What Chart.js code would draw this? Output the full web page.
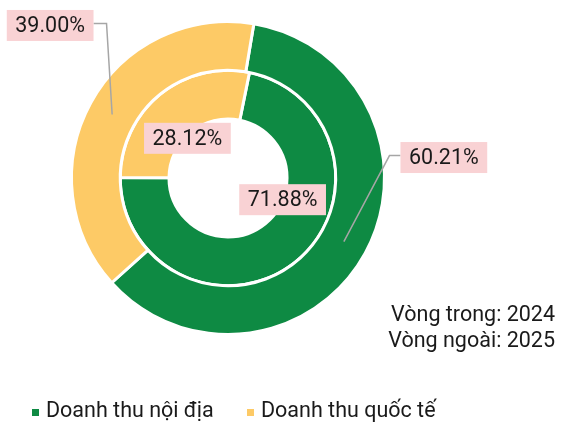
<!DOCTYPE html>
<html>
<head>
<meta charset="utf-8">
<script src="https://cdn.jsdelivr.net/npm/chart.js@4.4.1/dist/chart.umd.min.js"></script>
<style>
  body { margin: 0; background: #fff; }
  canvas { display: block; }
</style>
</head>
<body>
<canvas id="chart1" width="571" height="426"></canvas>
<script>
// data
const categories = ['Doanh thu nội địa', 'Doanh thu quốc tế'];
const outer2025 = [60.21, 39.00];
const inner2024 = [71.88, 28.12];
const ringNotes = ['Vòng trong: 2024', 'Vòng ngoài: 2025'];

const colors = ['#0e8a43', '#fdca66'];
const FONT = '21.5px Roboto';

// where each label box sits relative to its slice centre
const labelShift = [
  [[100, -84], [-62, -89]],   // outer ring (2025)
  [[2, -43], [12, 25]]        // inner ring (2024)
];

const labelPlugin = {
  id: 'labels',
  afterDatasetsDraw(chart) {
    const ctx = chart.ctx;
    ctx.save();
    ctx.font = FONT;
    ctx.textBaseline = 'middle';
    ctx.textAlign = 'center';

    chart.data.datasets.forEach(function(ds, di) {
      const meta = chart.getDatasetMeta(di);
      meta.data.forEach(function(arc, i) {
        const p = arc.tooltipPosition();
        const text = ds.data[i].toFixed(2) + '%';
        const w = ctx.measureText(text).width + 17;
        const h = 31;
        const cx = p.x + labelShift[di][i][0];
        const cy = p.y + labelShift[di][i][1];

        // leader lines only for the outer ring
        if (di === 0) {
          const edge = cx < p.x ? cx + w / 2 : cx - w / 2;
          const elbow = cx < p.x ? edge + 13 : edge - 11;
          ctx.strokeStyle = '#a6a6a6';
          ctx.lineWidth = 1.5;
          ctx.beginPath();
          ctx.moveTo(edge, cy - 2);
          ctx.lineTo(elbow, cy - 2);
          ctx.lineTo(p.x, p.y);
          ctx.stroke();
        }

        ctx.fillStyle = '#f9d2d4';
        ctx.fillRect(cx - w / 2, cy - h / 2, w, h);
        ctx.fillStyle = '#1a1a1a';
        ctx.fillText(text, cx, cy + 1);
      });
    });

    // ring note, bottom right
    ctx.textAlign = 'right';
    ctx.fillText(ringNotes[0], 555, 316);
    ctx.fillText(ringNotes[1], 555, 342);

    // legend
    ctx.textAlign = 'left';
    const legendX = [32, 247];
    categories.forEach(function(name, i) {
      ctx.fillStyle = colors[i];
      ctx.fillRect(legendX[i], 409, 7, 7);
      ctx.fillStyle = '#1a1a1a';
      ctx.fillText(name, legendX[i] + 14, 412);
    });
    ctx.restore();
  }
};

new Chart(document.getElementById('chart1'), {
  type: 'doughnut',
  data: {
    labels: categories,
    datasets: [
      {
        label: '2025',
        data: outer2025,
        backgroundColor: colors,
        borderColor: '#ffffff',
        borderWidth: 3,
        rotation: 9.5
      },
      {
        label: '2024',
        data: inner2024,
        backgroundColor: colors,
        borderColor: '#ffffff',
        borderWidth: 3,
        rotation: 11.5
      }
    ]
  },
  options: {
    responsive: false,
    devicePixelRatio: 1,
    animation: false,
    cutout: 59,
    layout: {
      padding: { left: 70, right: 185, top: 20, bottom: 90 }
    },
    plugins: {
      legend: { display: false },
      tooltip: { enabled: false }
    }
  },
  plugins: [labelPlugin]
});
</script>
</body>
</html>
